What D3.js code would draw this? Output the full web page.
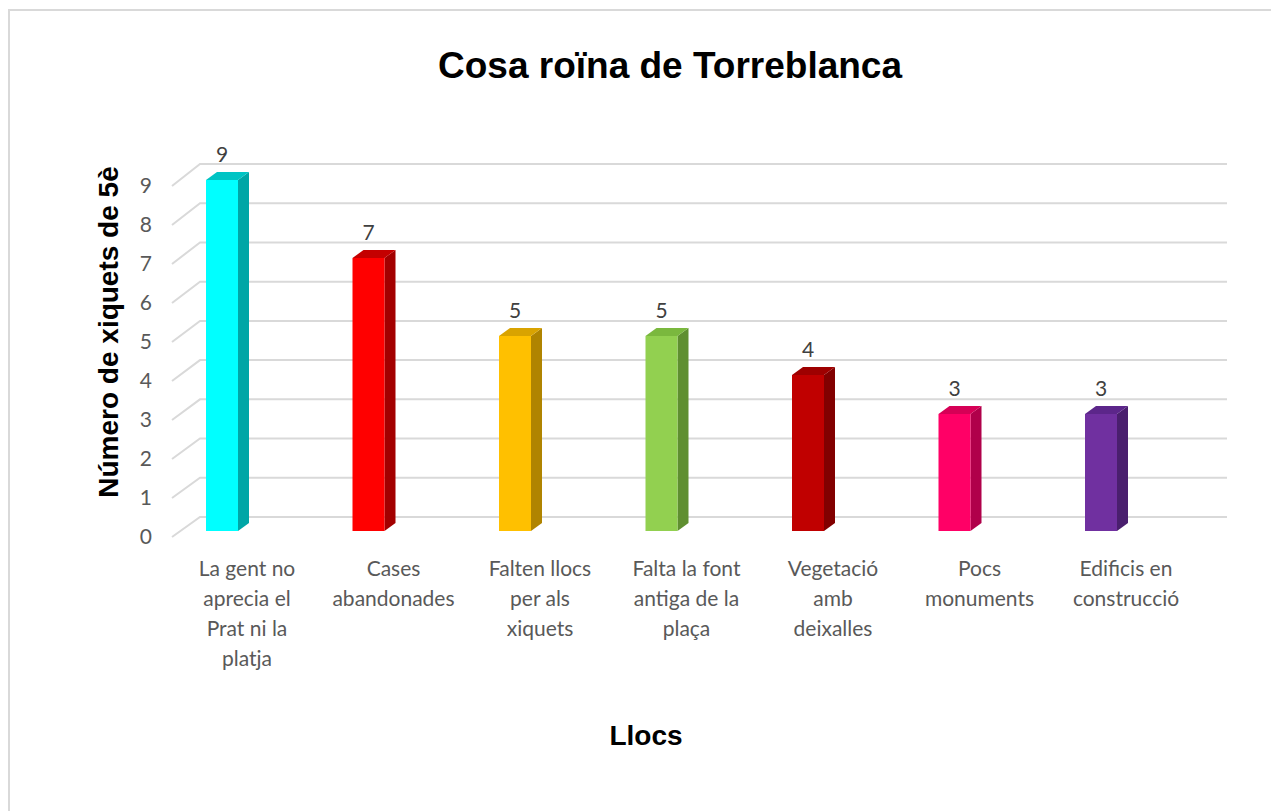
<!DOCTYPE html>
<html>
  <head>
    <meta charset="utf-8">
    <script src="https://d3js.org/d3.v7.min.js"></script>
    <style>
      body { margin: 0; background: #fff; }
    </style>
  </head>
  <body>
    <script>
      // chart data
      var categories = ["La gent no aprecia el Prat ni la platja", "Cases abandonades",
                        "Falten llocs per als xiquets", "Falta la font antiga de la plaça",
                        "Vegetació amb deixalles", "Pocs monuments", "Edificis en construcció"];
      var labelLines = [["La gent no", "aprecia el", "Prat ni la", "platja"],
                        ["Cases", "abandonades"],
                        ["Falten llocs", "per als", "xiquets"],
                        ["Falta la font", "antiga de la", "plaça"],
                        ["Vegetació", "amb", "deixalles"],
                        ["Pocs", "monuments"],
                        ["Edificis en", "construcció"]];
      var values = [9, 7, 5, 5, 4, 3, 3];
      var yTicks = [0, 1, 2, 3, 4, 5, 6, 7, 8, 9];
      var frontColors = ["#00ffff", "#ff0000", "#ffc000", "#92d050", "#c00000", "#ff0066", "#7030a0"];
      var sideColors  = ["#00a6a6", "#a30000", "#b08400", "#5f8f30", "#820000", "#b0004a", "#4a1f6e"];
      var topColors   = ["#00c4c4", "#c40000", "#d9a300", "#7ab83e", "#9e0000", "#d60056", "#5c268a"];

      var width = 1271, height = 811;
      var depthX = 11, depthY = -8;

      var svg = d3.select("body").append("svg")
          .attr("width", width)
          .attr("height", height);

      // chart border (only left/top visible in the crop)
      svg.append("rect")
          .attr("x", 9).attr("y", 10)
          .attr("width", 1300).attr("height", 900)
          .attr("fill", "#fff")
          .attr("stroke", "#d9d9d9")
          .attr("stroke-width", 2);

      var x = d3.scaleBand().domain(categories).range([148.75, 1174.25]);
      var yBar = d3.scaleLinear().domain([0, 9]).range([531, 180]);
      var yBack = d3.scaleLinear().domain([0, 9]).range([517, 164]);
      var yFront = d3.scaleLinear().domain([0, 9]).range([537, 186]);

      // gridlines: floor diagonal + back wall
      var grid = svg.append("g");
      grid.selectAll("path").data(yTicks).enter().append("path")
          .attr("d", function(d) {
            return "M172," + yFront(d) + "L200," + yBack(d) + "L1227," + yBack(d);
          })
          .attr("fill", "none")
          .attr("stroke", "#d9d9d9")
          .attr("stroke-width", 2);

      // y tick labels
      svg.append("g").selectAll("text").data(yTicks).enter().append("text")
          .attr("x", 152)
          .attr("y", function(d) { return yFront(d); })
          .attr("dy", "0.35em")
          .attr("text-anchor", "end")
          .attr("font-family", "Lato, 'Open Sans', sans-serif")
          .attr("font-size", 21)
          .attr("fill", "#595959")
          .text(function(d) { return d; });

      // bars
      var bw = 32;
      var bars = svg.append("g").selectAll("g").data(values).enter().append("g");
      bars.each(function(v, i) {
        var g = d3.select(this);
        var cx = x(categories[i]) + x.bandwidth() / 2;
        var x0 = cx - bw / 2, x1 = cx + bw / 2;
        var yt = yBar(v), yb = yBar(0);
        g.append("path")
            .attr("d", "M" + x1 + "," + yb + "L" + x1 + "," + yt + "L" + (x1 + depthX) + "," + (yt + depthY) +
                       "L" + (x1 + depthX) + "," + (yb + depthY) + "Z")
            .attr("fill", sideColors[i]);
        g.append("path")
            .attr("d", "M" + x0 + "," + yt + "L" + (x0 + depthX) + "," + (yt + depthY) + "L" + (x1 + depthX) + "," + (yt + depthY) +
                       "L" + x1 + "," + yt + "Z")
            .attr("fill", topColors[i]);
        g.append("rect")
            .attr("x", x0).attr("y", yt)
            .attr("width", bw).attr("height", yb - yt)
            .attr("fill", frontColors[i]);
        g.append("text")
            .attr("x", cx)
            .attr("y", yt + depthY - 17)
            .attr("dy", "0.35em")
            .attr("text-anchor", "middle")
            .attr("font-family", "Lato, 'Open Sans', sans-serif")
            .attr("font-size", 21)
            .attr("fill", "#404040")
            .text(v);
      });

      // category labels
      var cat = svg.append("g").selectAll("text").data(categories).enter().append("text")
          .attr("text-anchor", "middle")
          .attr("font-family", "Lato, 'Open Sans', sans-serif")
          .attr("font-size", 21)
          .attr("fill", "#595959");
      cat.each(function(c, i) {
        var cx = x(c) + x.bandwidth() / 2 + 25;
        d3.select(this).selectAll("tspan").data(labelLines[i]).enter().append("tspan")
            .attr("x", cx)
            .attr("y", function(d, j) { return 569 + j * 30; })
            .attr("dy", "0.35em")
            .text(function(d) { return d; });
      });

      // titles
      svg.append("text")
          .attr("x", 670).attr("y", 65)
          .attr("dy", "0.35em")
          .attr("text-anchor", "middle")
          .attr("font-family", "'Liberation Sans', Arial, sans-serif")
          .attr("font-weight", "bold")
          .attr("font-size", 37)
          .text("Cosa roïna de Torreblanca");

      svg.append("text")
          .attr("transform", "translate(108,332) rotate(-90)")
          .attr("dy", "0.35em")
          .attr("text-anchor", "middle")
          .attr("font-family", "'Liberation Sans', Arial, sans-serif")
          .attr("font-weight", "bold")
          .attr("font-size", 28)
          .text("Número de xiquets de 5è");

      svg.append("text")
          .attr("x", 646).attr("y", 735)
          .attr("dy", "0.35em")
          .attr("text-anchor", "middle")
          .attr("font-family", "'Liberation Sans', Arial, sans-serif")
          .attr("font-weight", "bold")
          .attr("font-size", 28)
          .text("Llocs");
    </script>
  </body>
</html>
